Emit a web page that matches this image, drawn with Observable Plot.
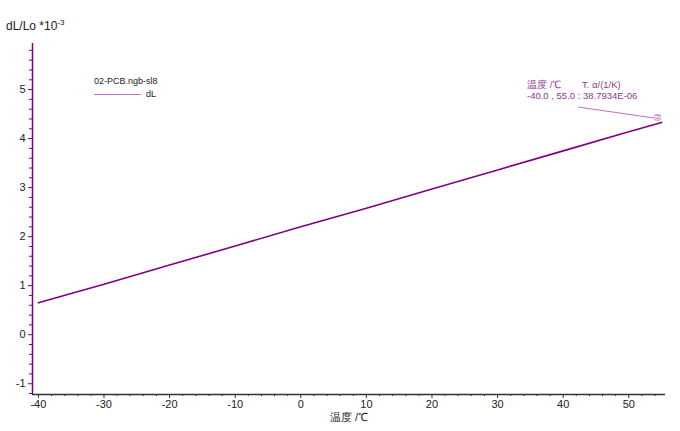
<!DOCTYPE html>
<html>
<head>
<meta charset="utf-8">
<script src="https://cdn.jsdelivr.net/npm/d3@7"></script>
<script src="https://cdn.jsdelivr.net/npm/@observablehq/plot@0.6"></script>
<style>
  body { margin: 0; background: #fff; }
  #wrap { position: relative; width: 680px; height: 431px; font-family: "Liberation Sans", Arial, sans-serif; color: #222; overflow: hidden; }
  .ov { position: absolute; white-space: nowrap; line-height: 1; }
</style>
</head>
<body>
<div id="wrap"></div>
<script>
// ---- data ----
const temps = [-40, -30, -20, -10, 0, 10, 20, 30, 40, 50, 55];
const dL    = [0.65, 1.03, 1.42, 1.81, 2.20, 2.58, 2.97, 3.36, 3.75, 4.14, 4.33];
const xTicks = [-40, -30, -20, -10, 0, 10, 20, 30, 40, 50];
const yTicks = [-1, 0, 1, 2, 3, 4, 5];
const xDomain = [-40.9, 55.6];
const yDomain = [-1.22, 5.94];
const seriesName = "02-PCB.ngb-sl8";
const seriesKey = "dL";
const yTitle = "dL/Lo *10";
const xTitle = "温度 /℃";
const annHead1 = "温度 /℃";
const annHead2 = "T. α/(1/K)";
const annText = "-40.0 , 55.0 : 38.7934E-06";

const xMinor = d3.range(-40, 56, 2).filter(v => !xTicks.includes(v));
const yMinor = d3.range(-12, 60, 2).map(v => v / 10).filter(v => !yTicks.includes(v));

const data = temps.map((t, i) => ({t, v: dL[i]}));
const purple = "#800080";

const chart = Plot.plot({
  width: 680, height: 431,
  marginLeft: 32, marginRight: 15, marginTop: 43, marginBottom: 37,
  x: {domain: xDomain, axis: null},
  y: {domain: yDomain, axis: null},
  style: {fontFamily: "'Liberation Sans', Arial, sans-serif", fontSize: "11px", color: "#222", background: "white"},
  marks: [
    Plot.axisX(xMinor, {tickSize: 2, tickFormat: () => "", stroke: "#333", label: null}),
    Plot.axisX(xTicks, {tickSize: 4, tickPadding: 2, tickFormat: d => String(d), stroke: "#333", fill: "#222", label: null}),
    Plot.axisY(yMinor, {tickSize: 3, tickFormat: () => "", stroke: purple, label: null}),
    Plot.axisY(yTicks, {tickSize: 4, tickPadding: 3, tickFormat: d => String(d), stroke: purple, fill: "#222", label: null}),
    Plot.ruleY([yDomain[0]], {stroke: "#333", strokeWidth: 1.5}),
    Plot.ruleX([xDomain[0]], {stroke: purple, strokeWidth: 1.5}),
    Plot.line(data, {x: "t", y: "v", stroke: purple, strokeWidth: 1.6}),
    Plot.dot(data.slice(-1), {x: "t", y: "v", symbol: "square", r: 3, dx: -4, dy: -5, stroke: "#c070c0", fill: "white", strokeWidth: 0.8}),
    Plot.text(data.slice(-1), {x: "t", y: "v", text: () => "2", dx: -4, dy: -5, fontSize: 6, fill: "#a050a0"})
  ]
});

const wrap = document.getElementById("wrap");
wrap.appendChild(chart);

function ov(html, left, top, style = "") {
  const d = document.createElement("div");
  d.className = "ov";
  d.style.left = left + "px";
  d.style.top = top + "px";
  d.style.cssText += style;
  d.innerHTML = html;
  wrap.appendChild(d);
  return d;
}
ov(yTitle + "<sup style='font-size:8px;vertical-align:5px'>-3</sup>", 6, 19, "font-size:12px;color:#222;");
ov(xTitle, 330, 412, "font-size:11px;color:#222;");
ov(seriesName, 94, 77, "font-size:9px;color:#222;");
ov("", 94, 94, "width:47px;height:0;border-top:1px solid #cc70cc;");
ov(seriesKey, 146, 90, "font-size:9px;color:#222;");
ov(annHead1, 527, 80, "font-size:9.5px;color:#8a3a8a;");
ov(annHead2, 582, 80, "font-size:9.5px;color:#8a3a8a;");
ov(annText, 527, 91, "font-size:9.5px;color:#8a3a8a;");

// leader line from annotation to the end marker
const ns = "http://www.w3.org/2000/svg";
const svg = document.createElementNS(ns, "svg");
svg.setAttribute("width", 680); svg.setAttribute("height", 431);
svg.style.position = "absolute"; svg.style.left = "0"; svg.style.top = "0"; svg.style.pointerEvents = "none";
const ln = document.createElementNS(ns, "line");
ln.setAttribute("x1", 578); ln.setAttribute("y1", 107);
ln.setAttribute("x2", 654); ln.setAttribute("y2", 118);
ln.setAttribute("stroke", "#c070c0"); ln.setAttribute("stroke-width", 1);
svg.appendChild(ln);
wrap.appendChild(svg);
</script>
</body>
</html>
